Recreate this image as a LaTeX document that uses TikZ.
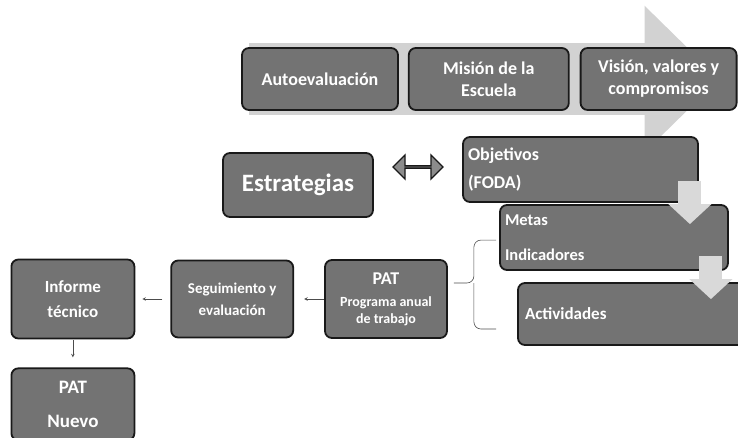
\documentclass[tikz,border=0pt]{standalone}
\usepackage{fontspec}
\setmainfont{Carlito}
\usetikzlibrary{positioning, shapes.arrows, arrows.meta, backgrounds}
\tikzstyle{block} = [rectangle, rounded corners=7pt,
line width=1.8pt,
draw=black!90,
fill=black!55,
text=white,
align=center,
inner sep=3pt,
font=\bfseries\fontsize{18}{22}\selectfont]
\tikzstyle{leftblock} = [block,
align=left,
inner xsep=5pt]
\tikzstyle{link} = [double arrow,
double arrow head extend=6.5pt,
draw=black!90, line width=1.4pt,
fill=black!45,
inner sep=0pt]
\tikzstyle{bigarrow} = [draw=gray!35, line width=72pt,
-{Triangle[width=142pt,length=75pt]}]
\tikzstyle{downarrow} = [draw=gray!30, line width=23pt,
-{Triangle[width=42pt,length=20pt]}]
\tikzstyle{arrow} = [->,>=stealth, draw=black!70, line width=0.6pt]
\tikzstyle{brace} = [draw=black!70, line width=0.6pt, rounded corners=7pt]

\begin{document}
\begin{tikzpicture}[x=1pt, y=1pt]
        \useasboundingbox (0,0) rectangle (738,-438);
        \node (auto) [block, minimum width=156pt, minimum height=62pt] at (320,-79) {Autoevaluación};
        \node (mision) [block, minimum width=160pt, minimum height=62pt, right=9pt of auto] {Misión de la\\Escuela};
        \node (vision) [block, minimum width=156pt, minimum height=62pt, right=10pt of mision] {Visión, valores y\\compromisos};

        \node (estr) [block, minimum width=150pt, minimum height=64pt, font=\bfseries\fontsize{25}{28}\selectfont] at (298,-185) {Estrategias};
        \node (obj) [leftblock, text width=225pt, minimum height=65pt, font=\bfseries\fontsize{18}{28}\selectfont] at (580.5,-169.5) {Objetivos\\(FODA)};
        \node (dbl) [link, minimum height=50pt, minimum width=24pt] at (418,-167) {};
        \node (metas) [leftblock, text width=218pt, minimum height=65pt, font=\bfseries\fontsize{16.5}{35}\selectfont] at (614,-237.5) {Metas\\Indicadores};
        \node (activ) [leftblock, inner xsep=7pt, text width=213pt, minimum height=62pt, font=\bfseries\fontsize{17}{22}\selectfont] at (631.5,-314) {Actividades};

        \node (pat) [block, minimum width=122pt, minimum height=78pt, font=\bfseries\fontsize{14}{17}\selectfont] at (386,-299) {\fontsize{18}{22}\selectfont PAT\\[5pt]\fontsize{14}{17}\selectfont Programa anual\\de trabajo};
        \node (seg) [block, minimum width=122pt, minimum height=77pt, font=\bfseries\fontsize{15}{22}\selectfont, left=30pt of pat] {Seguimiento y\\evaluación};
        \node (inf) [block, minimum width=123pt, minimum height=79pt, font=\bfseries\fontsize{17}{25}\selectfont, left=35pt of seg] {Informe\\técnico};
        \node (nuevo) [block, minimum width=123pt, minimum height=72pt, font=\bfseries\fontsize{19}{34}\selectfont, below=28pt of inf] {PAT\\Nuevo};

        \begin{scope}[on background layer]
        \draw [bigarrow] ([xshift=8pt]auto.west) -- ([xshift=-18pt]vision.east);
        \end{scope}
        \draw [downarrow] ([xshift=-9pt,yshift=22pt]obj.south east) -- ([xshift=-39pt,yshift=-20pt]metas.north east);
        \draw [downarrow] ([xshift=-18pt,yshift=15pt]metas.south east) -- ([xshift=-35pt,yshift=-17pt]activ.north east);

        \coordinate (tip) at ([xshift=6pt,yshift=16pt]pat.east);
        \draw [brace] ([xshift=-3pt,yshift=-36pt]metas.north west) -| ([xshift=20pt]tip) -- (tip);
        \draw [brace] ([xshift=-21pt,yshift=-15pt]activ.west) -| ([xshift=20pt]tip);

        \draw [arrow, shorten >=10pt] (pat) -- (seg);
        \draw [arrow, shorten <=8pt, shorten >=7pt] (seg) -- (inf);
        \draw [arrow, shorten <=1pt, shorten >=10pt] (inf) -- (nuevo);
    \end{tikzpicture}
\end{document}
